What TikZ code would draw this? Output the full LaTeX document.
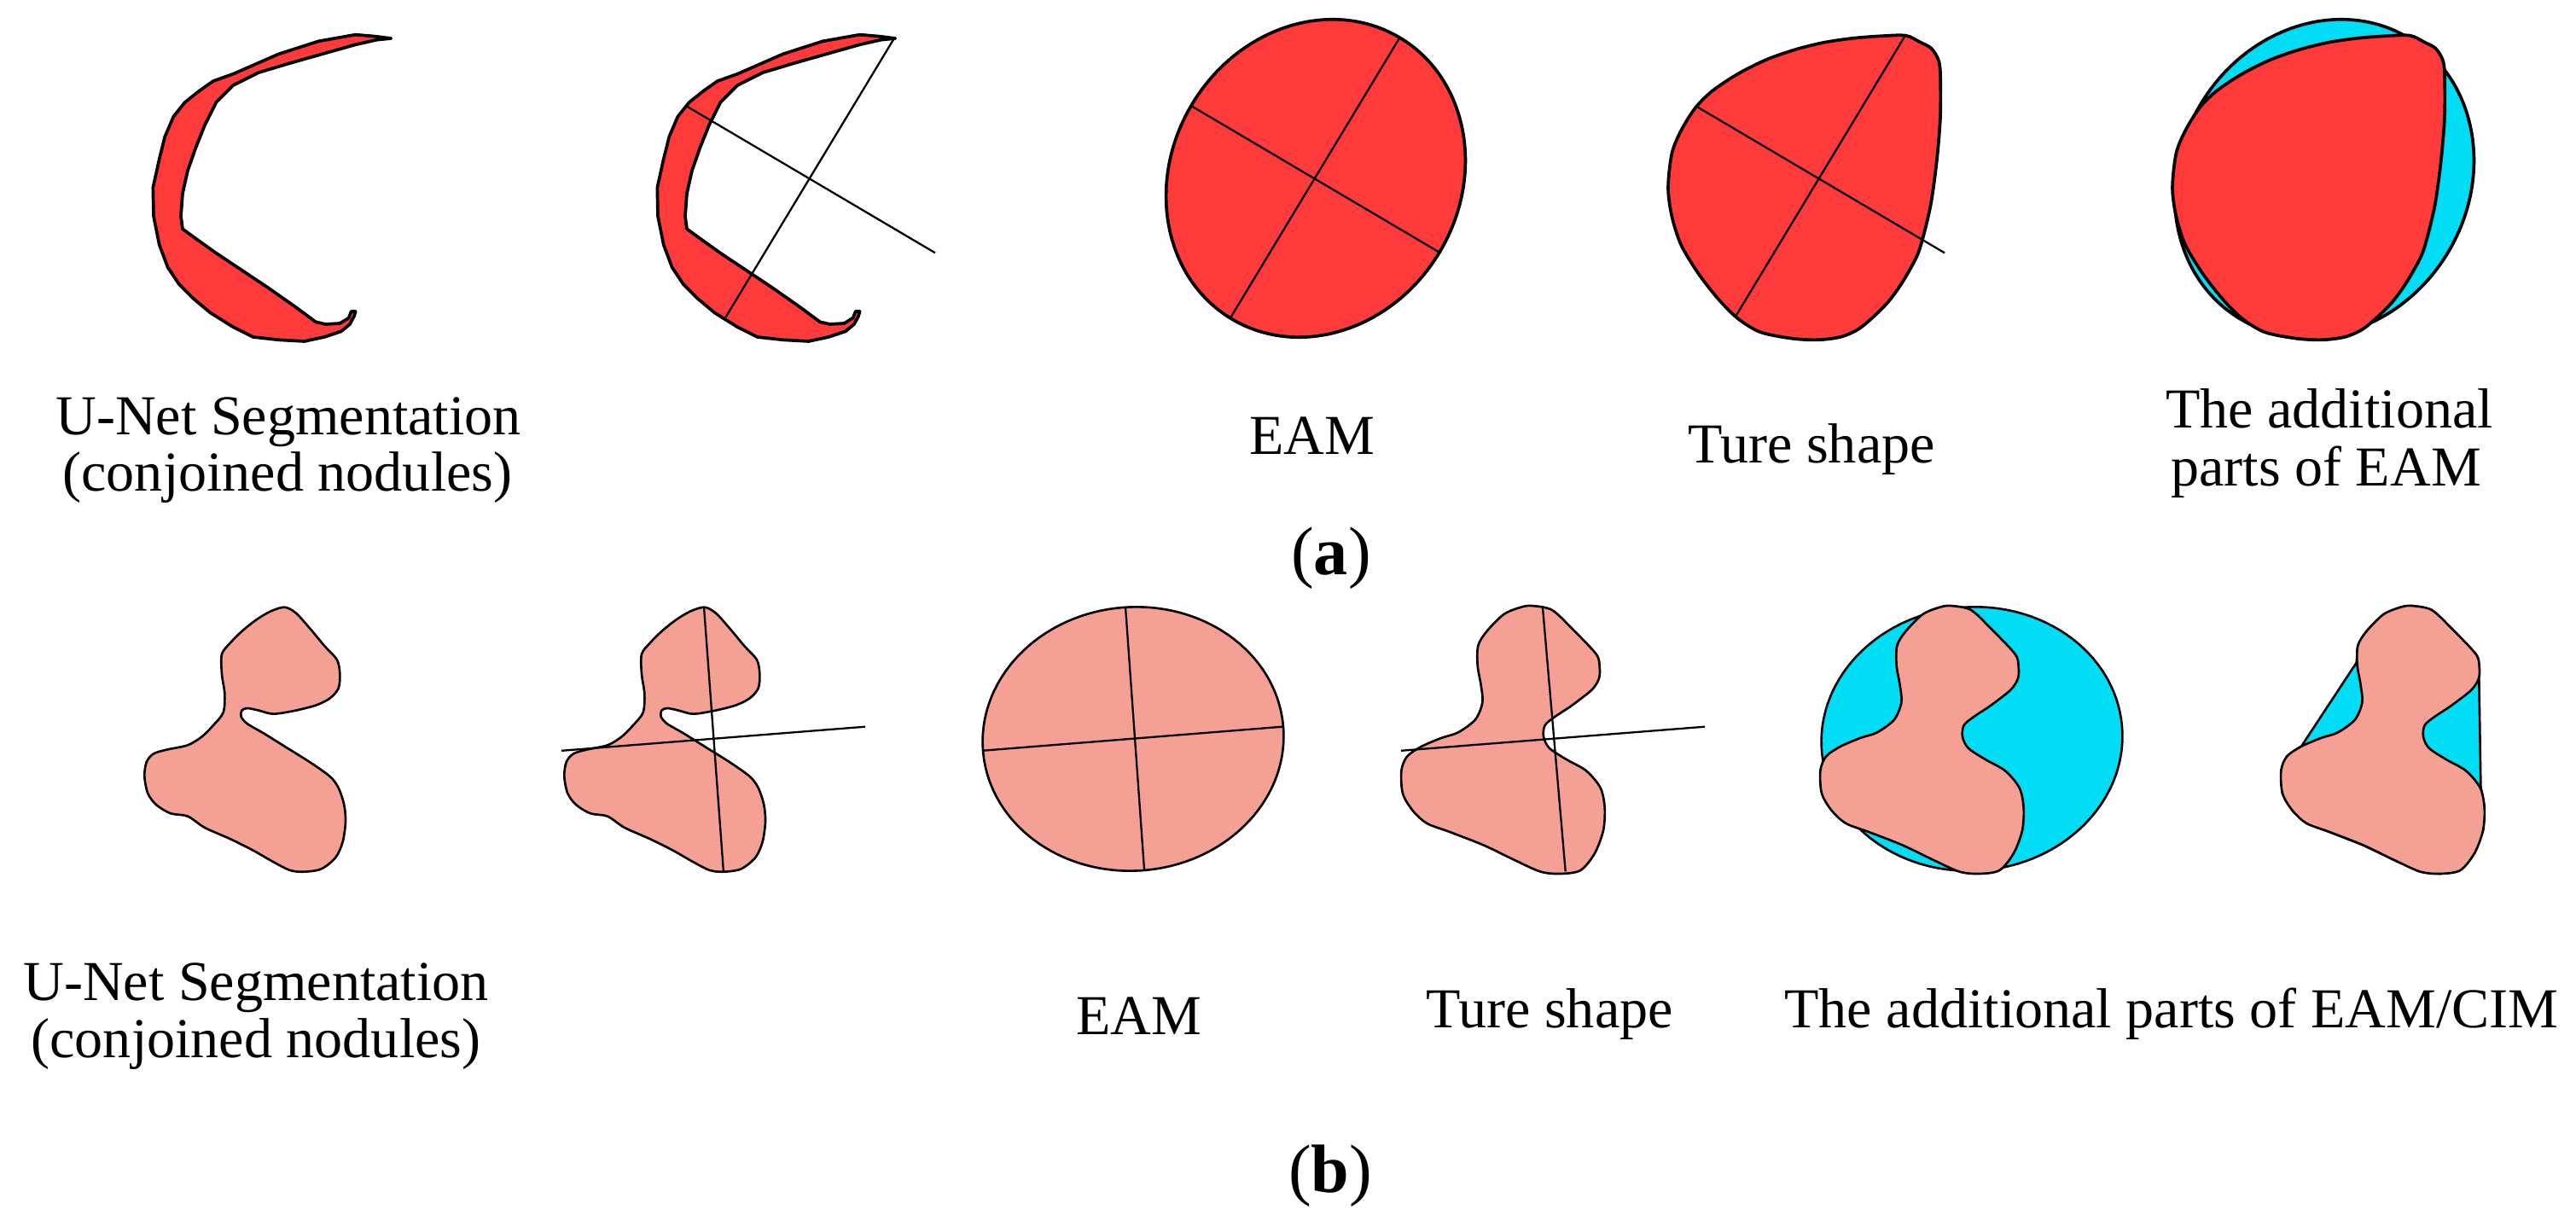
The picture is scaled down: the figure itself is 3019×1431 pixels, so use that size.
\documentclass[tikz,border=0pt]{standalone}
\usepackage{fontspec}
\setmainfont{Liberation Serif}
\definecolor{nodred}{RGB}{255,58,58}
\definecolor{nodsalmon}{RGB}{245,160,148}
\definecolor{nodcyan}{RGB}{0,221,245}
\tikzset{
  redshape/.style={fill=nodred, draw=black, line width=1.05pt, line join=round},
  salshape/.style={fill=nodsalmon, draw=black, line width=0.75pt, line join=round},
  cyanshape/.style={fill=nodcyan, draw=black, line width=0.75pt, line join=round},
  axisline/.style={draw=black, line width=0.65pt},
  lbl/.style={font=\fontsize{18.8}{22}\selectfont, anchor=base, inner sep=0pt},
  sublbl/.style={font=\fontsize{22.8}{26}\selectfont, anchor=base, inner sep=0pt},
}
\def\crescentpath{plot[sharp cycle] coordinates {(955,75) (900,68) (830,62) (700,85) (560,130) (480,165) (400,200) (330,225) (280,260) (230,300) (190,350) (160,420) (140,500) (118,600) (120,700) (140,800) (170,880) (210,940) (260,990) (320,1040) (400,1090) (470,1125) (560,1135) (650,1140) (720,1125) (780,1105) (810,1080) (825,1052) (830,1035) (815,1035) (806,1058) (775,1077) (725,1080) (690,1072) (620,1020) (520,950) (430,890) (340,830) (270,780) (222,745) (216,700) (222,620) (240,540) (268,460) (300,380) (340,300) (400,240) (490,195) (600,162) (720,128) (830,97) (905,80)}}
\def\trueapath{plot[smooth cycle, tension=0.5] coordinates {(910,65) (960,88) (1000,110) (1025,150) (1032,200) (1032,350) (1020,500) (1000,650) (975,760) (950,840) (900,930) (850,1000) (790,1060) (740,1100) (680,1125) (600,1135) (510,1130) (400,1108) (320,1060) (250,990) (180,900) (120,800) (88,700) (75,600) (88,480) (120,400) (170,320) (230,260) (320,200) (420,150) (520,115) (620,90) (720,75) (820,67)}}
\def\bonepath{plot[smooth cycle, tension=0.5] coordinates {(730,95) (770,115) (820,170) (870,230) (915,280) (925,330) (920,380) (890,415) (840,440) (760,460) (690,470) (640,458) (600,450) (580,458) (578,480) (600,505) (660,540) (740,590) (820,640) (890,690) (920,730) (940,790) (945,850) (935,920) (910,975) (860,1015) (800,1025) (750,1020) (690,990) (620,950) (540,910) (450,870) (390,830) (330,820) (280,790) (250,750) (238,690) (245,640) (270,610) (320,595) (390,580) (440,550) (480,510) (515,465) (520,400) (510,330) (510,260) (540,220) (580,180) (630,140) (680,110)}}
\def\truebpath{plot[smooth cycle, tension=0.5] coordinates {(620,90) (690,105) (760,170) (845,260) (857,305) (855,345) (830,385) (760,440) (700,480) (665,510) (660,550) (680,590) (740,630) (810,670) (860,730) (875,800) (870,880) (840,960) (790,1020) (720,1032) (650,1025) (560,985) (450,932) (330,885) (250,855) (200,810) (165,750) (160,670) (180,620) (230,585) (300,555) (360,535) (420,490) (445,430) (440,370) (428,300) (430,230) (460,180) (520,120) (580,95)}}
\begin{document}
\begin{tikzpicture}[x=0.01cm, y=-0.01cm]
\fill[white] (0,0) rectangle (3019,1431);
\useasboundingbox (0,0) rectangle (3019,1431);

% ---------- row (a) ----------
% column 1: crescent
\begin{scope}[shift={(140,20)}, scale=1/3]
  \filldraw[redshape] \crescentpath;
\end{scope}
% column 2: crescent with axes
\begin{scope}[shift={(731,20)}, scale=1/3]
  \filldraw[redshape] \crescentpath;
\end{scope}
\draw[axisline] (1048.8,43.5) -- (850.5,371.8);
\draw[axisline] (804.6,124.4) -- (1096,296.4);
% column 3: EAM ellipse
\begin{scope}[shift={(1542,209)}, rotate=-31]
  \filldraw[redshape] (0,0) ellipse [x radius=169, y radius=192];
\end{scope}
\draw[axisline] (1640.8,43.5) -- (1442.5,371.8);
\draw[axisline] (1396.6,124.4) -- (1688,296.4);
% column 4: true shape
\begin{scope}[shift={(1930,20)}, scale=1/3]
  \filldraw[redshape] \trueapath;
\end{scope}
\draw[axisline] (2231.8,43.5) -- (2033.5,371.8);
\draw[axisline] (1987.6,124.4) -- (2279,296.4);
% column 5: additional parts
\begin{scope}[shift={(2724,209)}, rotate=-31]
  \filldraw[cyanshape, line width=1.05pt] (0,0) ellipse [x radius=169, y radius=192];
\end{scope}
\begin{scope}[shift={(2521,20)}, scale=1/3]
  \filldraw[redshape] \trueapath;
\end{scope}

% labels (a)
\node[lbl] (la1a) at (338,510) {U-Net Segmentation};
\node[lbl] (la1b) at (337,576) {(conjoined nodules)};
\node[lbl] (la3) at (1538,533) {EAM};
\node[lbl] (la4) at (2123,543) {Ture shape};
\node[lbl] (la5a) at (2730,502) {The additional};
\node[lbl] (la5b) at (2726,570) {parts of EAM};
\node[sublbl] (capa) at (1560,673) {(\textbf{a})};

% ---------- row (b) ----------
% column 1
\begin{scope}[shift={(90,680)}, scale=1/3]
  \filldraw[salshape] \bonepath;
\end{scope}
% column 2
\begin{scope}[shift={(582,680)}, scale=1/3]
  \filldraw[salshape] \bonepath;
\end{scope}
\draw[axisline] (658.2,879.8) -- (1014,851.7);
\draw[axisline] (825,711.3) -- (848,1022.4);
% column 3: EAM ellipse
\begin{scope}[shift={(1328,866)}, rotate=4.5]
  \filldraw[salshape] (0,0) ellipse [x radius=176.5, y radius=154.5];
\end{scope}
\draw[axisline] (1151,879.8) -- (1503,851.7);
\draw[axisline] (1319,711.3) -- (1341,1019);
% column 4: true shape
\begin{scope}[shift={(1589,680)}, scale=1/3]
  \filldraw[salshape] \truebpath;
\end{scope}
\draw[axisline] (1642,879.8) -- (1998,851.7);
\draw[axisline] (1807.9,711.3) -- (1834.7,1021.3);
% column 5: EAM additional parts
\begin{scope}[shift={(2311,866)}, rotate=4.5]
  \filldraw[cyanshape] (0,0) ellipse [x radius=176.5, y radius=154.5];
\end{scope}
\begin{scope}[shift={(2080,680)}, scale=1/3]
  \filldraw[salshape] \truebpath;
\end{scope}
% column 6: CIM additional parts (convex hull)
\begin{scope}[shift={(2620,680)}, scale=1/3]
  \filldraw[cyanshape] (620,90) -- (690,105) -- (760,170) -- (845,260) -- (857,305) -- (856,345) -- (862,725) -- (875,800) -- (870,880) -- (840,960) -- (790,1020) -- (720,1032) -- (650,1025) -- (560,985) -- (450,932) -- (330,885) -- (250,855) -- (200,810) -- (165,750) -- (160,670) -- (180,620) -- (232,583) -- (425,290) -- (430,230) -- (460,180) -- (520,120) -- (580,95) -- cycle;
  \filldraw[salshape] \truebpath;
\end{scope}

% labels (b)
\node[lbl] (lb1a) at (300,1172) {U-Net Segmentation};
\node[lbl] (lb1b) at (300,1239) {(conjoined nodules)};
\node[lbl] (lb3) at (1335,1212) {EAM};
\node[lbl] (lb4) at (1816,1204) {Ture shape};
\node[lbl] (lb5) at (2545,1204) {The additional parts of EAM/CIM};
\node[sublbl] (capb) at (1559,1397) {(\textbf{b})};
\end{tikzpicture}
\end{document}
